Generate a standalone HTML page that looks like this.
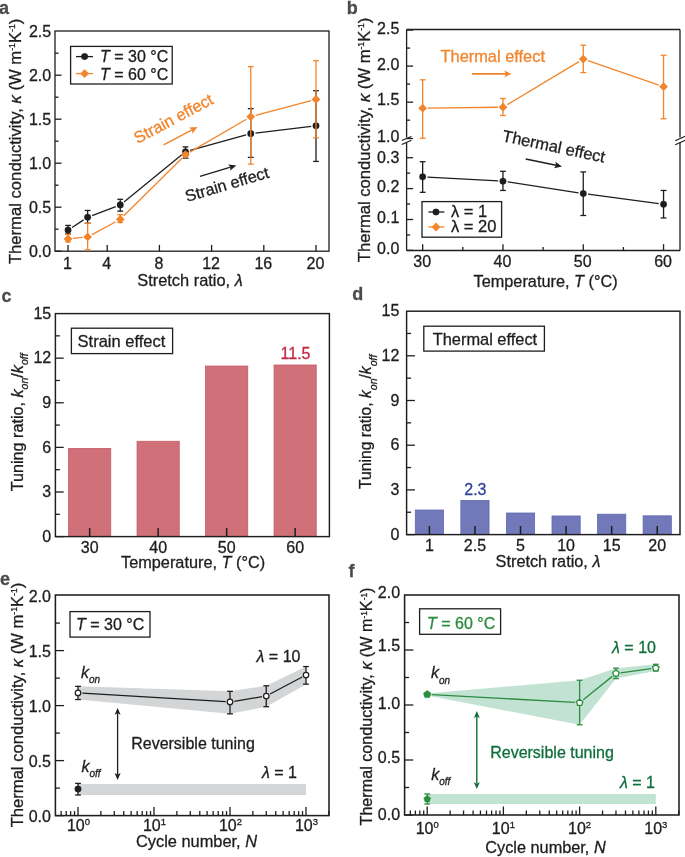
<!DOCTYPE html>
<html><head><meta charset="utf-8"><style>
html,body{margin:0;padding:0;background:#fff;}
svg{display:block;font-family:"Liberation Sans",sans-serif;will-change:transform;}
text{stroke-width:0.3px;}
</style></head><body>
<svg width="685" height="857" viewBox="0 0 685 857">
<rect width="685" height="857" fill="#fff"/>
<text x="-1.10" y="14.30" font-size="18" text-anchor="start" fill="#4b4b4b" stroke="#4b4b4b" font-weight="bold" >a</text>
<line x1="68.05" y1="251.20" x2="68.05" y2="244.90" stroke="#1e1e1e" stroke-width="1.3" />
<text x="67.55" y="268.70" font-size="16" text-anchor="middle" fill="#1e1e1e" stroke="#1e1e1e" >1</text>
<line x1="107.20" y1="251.20" x2="107.20" y2="244.90" stroke="#1e1e1e" stroke-width="1.3" />
<text x="106.70" y="268.70" font-size="16" text-anchor="middle" fill="#1e1e1e" stroke="#1e1e1e" >4</text>
<line x1="159.40" y1="251.20" x2="159.40" y2="244.90" stroke="#1e1e1e" stroke-width="1.3" />
<text x="158.90" y="268.70" font-size="16" text-anchor="middle" fill="#1e1e1e" stroke="#1e1e1e" >8</text>
<line x1="211.60" y1="251.20" x2="211.60" y2="244.90" stroke="#1e1e1e" stroke-width="1.3" />
<text x="211.10" y="268.70" font-size="16" text-anchor="middle" fill="#1e1e1e" stroke="#1e1e1e" >12</text>
<line x1="263.80" y1="251.20" x2="263.80" y2="244.90" stroke="#1e1e1e" stroke-width="1.3" />
<text x="263.30" y="268.70" font-size="16" text-anchor="middle" fill="#1e1e1e" stroke="#1e1e1e" >16</text>
<line x1="316.00" y1="251.20" x2="316.00" y2="244.90" stroke="#1e1e1e" stroke-width="1.3" />
<text x="315.50" y="268.70" font-size="16" text-anchor="middle" fill="#1e1e1e" stroke="#1e1e1e" >20</text>
<line x1="55.00" y1="251.20" x2="61.50" y2="251.20" stroke="#1e1e1e" stroke-width="1.3" />
<text x="51.20" y="256.50" font-size="16" text-anchor="end" fill="#1e1e1e" stroke="#1e1e1e" >0.0</text>
<line x1="55.00" y1="229.20" x2="58.50" y2="229.20" stroke="#1e1e1e" stroke-width="1.3" />
<line x1="55.00" y1="207.20" x2="61.50" y2="207.20" stroke="#1e1e1e" stroke-width="1.3" />
<text x="51.20" y="212.50" font-size="16" text-anchor="end" fill="#1e1e1e" stroke="#1e1e1e" >0.5</text>
<line x1="55.00" y1="185.20" x2="58.50" y2="185.20" stroke="#1e1e1e" stroke-width="1.3" />
<line x1="55.00" y1="163.20" x2="61.50" y2="163.20" stroke="#1e1e1e" stroke-width="1.3" />
<text x="51.20" y="168.50" font-size="16" text-anchor="end" fill="#1e1e1e" stroke="#1e1e1e" >1.0</text>
<line x1="55.00" y1="141.20" x2="58.50" y2="141.20" stroke="#1e1e1e" stroke-width="1.3" />
<line x1="55.00" y1="119.20" x2="61.50" y2="119.20" stroke="#1e1e1e" stroke-width="1.3" />
<text x="51.20" y="124.50" font-size="16" text-anchor="end" fill="#1e1e1e" stroke="#1e1e1e" >1.5</text>
<line x1="55.00" y1="97.20" x2="58.50" y2="97.20" stroke="#1e1e1e" stroke-width="1.3" />
<line x1="55.00" y1="75.20" x2="61.50" y2="75.20" stroke="#1e1e1e" stroke-width="1.3" />
<text x="51.20" y="80.50" font-size="16" text-anchor="end" fill="#1e1e1e" stroke="#1e1e1e" >2.0</text>
<line x1="55.00" y1="53.20" x2="58.50" y2="53.20" stroke="#1e1e1e" stroke-width="1.3" />
<text x="51.20" y="36.50" font-size="16" text-anchor="end" fill="#1e1e1e" stroke="#1e1e1e" >2.5</text>
<rect x="55.00" y="31.00" width="274.00" height="220.20" stroke="#1e1e1e" fill="none" stroke-width="1.3"/>
<text transform="translate(21.00,141.40) rotate(-90)" font-size="16.65" text-anchor="middle" fill="#1e1e1e" stroke="#1e1e1e">Thermal conductivity, <tspan font-style="italic">κ</tspan> (W m<tspan font-size="8.7" dy="-5.7">-1</tspan><tspan dy="5.7">K</tspan><tspan font-size="8.7" dy="-5.7">-1</tspan><tspan dy="5.7">)</tspan></text>
<text x="190.00" y="286.40" font-size="16.4" text-anchor="middle" fill="#1e1e1e" stroke="#1e1e1e" >Stretch ratio, <tspan font-style="italic">λ</tspan></text>
<line x1="72.06" y1="227.45" x2="83.61" y2="219.87" stroke="#1e1e1e" stroke-width="1.3" />
<line x1="92.12" y1="215.54" x2="115.76" y2="206.61" stroke="#1e1e1e" stroke-width="1.3" />
<line x1="123.97" y1="201.88" x2="181.78" y2="154.79" stroke="#1e1e1e" stroke-width="1.3" />
<line x1="190.12" y1="150.48" x2="246.13" y2="134.92" stroke="#1e1e1e" stroke-width="1.3" />
<line x1="255.52" y1="133.06" x2="311.23" y2="126.37" stroke="#1e1e1e" stroke-width="1.3" />
<line x1="68.05" y1="225.42" x2="68.05" y2="233.95" stroke="#1e1e1e" stroke-width="1.3" />
<line x1="65.15" y1="225.42" x2="70.95" y2="225.42" stroke="#1e1e1e" stroke-width="1.3" />
<line x1="65.15" y1="233.95" x2="70.95" y2="233.95" stroke="#1e1e1e" stroke-width="1.3" />
<line x1="87.62" y1="210.46" x2="87.62" y2="223.30" stroke="#1e1e1e" stroke-width="1.3" />
<line x1="84.72" y1="210.46" x2="90.53" y2="210.46" stroke="#1e1e1e" stroke-width="1.3" />
<line x1="84.72" y1="223.30" x2="90.53" y2="223.30" stroke="#1e1e1e" stroke-width="1.3" />
<line x1="120.25" y1="199.28" x2="120.25" y2="211.16" stroke="#1e1e1e" stroke-width="1.3" />
<line x1="117.35" y1="199.28" x2="123.15" y2="199.28" stroke="#1e1e1e" stroke-width="1.3" />
<line x1="117.35" y1="211.16" x2="123.15" y2="211.16" stroke="#1e1e1e" stroke-width="1.3" />
<line x1="185.50" y1="146.92" x2="185.50" y2="158.18" stroke="#1e1e1e" stroke-width="1.3" />
<line x1="182.60" y1="146.92" x2="188.40" y2="146.92" stroke="#1e1e1e" stroke-width="1.3" />
<line x1="182.60" y1="158.18" x2="188.40" y2="158.18" stroke="#1e1e1e" stroke-width="1.3" />
<line x1="250.75" y1="108.64" x2="250.75" y2="157.39" stroke="#1e1e1e" stroke-width="1.3" />
<line x1="247.85" y1="108.64" x2="253.65" y2="108.64" stroke="#1e1e1e" stroke-width="1.3" />
<line x1="247.85" y1="157.39" x2="253.65" y2="157.39" stroke="#1e1e1e" stroke-width="1.3" />
<line x1="316.00" y1="90.69" x2="316.00" y2="161.44" stroke="#1e1e1e" stroke-width="1.3" />
<line x1="313.10" y1="90.69" x2="318.90" y2="90.69" stroke="#1e1e1e" stroke-width="1.3" />
<line x1="313.10" y1="161.44" x2="318.90" y2="161.44" stroke="#1e1e1e" stroke-width="1.3" />
<circle cx="68.05" cy="230.08" r="3.3" fill="#1e1e1e" stroke="#1e1e1e" stroke-width="0.2"/>
<circle cx="87.62" cy="217.23" r="3.3" fill="#1e1e1e" stroke="#1e1e1e" stroke-width="0.2"/>
<circle cx="120.25" cy="204.91" r="3.3" fill="#1e1e1e" stroke="#1e1e1e" stroke-width="0.2"/>
<circle cx="185.50" cy="151.76" r="3.3" fill="#1e1e1e" stroke="#1e1e1e" stroke-width="0.2"/>
<circle cx="250.75" cy="133.63" r="3.3" fill="#1e1e1e" stroke="#1e1e1e" stroke-width="0.2"/>
<circle cx="316.00" cy="125.80" r="3.3" fill="#1e1e1e" stroke="#1e1e1e" stroke-width="0.2"/>
<line x1="73.02" y1="238.45" x2="82.65" y2="237.46" stroke="#f1852c" stroke-width="1.3" />
<line x1="92.03" y1="234.57" x2="115.85" y2="221.72" stroke="#f1852c" stroke-width="1.3" />
<line x1="123.80" y1="215.82" x2="181.95" y2="158.18" stroke="#f1852c" stroke-width="1.3" />
<line x1="189.82" y1="152.15" x2="246.43" y2="119.25" stroke="#f1852c" stroke-width="1.3" />
<line x1="255.58" y1="115.45" x2="311.17" y2="100.68" stroke="#f1852c" stroke-width="1.3" />
<line x1="68.05" y1="234.48" x2="68.05" y2="241.87" stroke="#f1852c" stroke-width="1.3" />
<line x1="65.15" y1="234.48" x2="70.95" y2="234.48" stroke="#f1852c" stroke-width="1.3" />
<line x1="65.15" y1="241.87" x2="70.95" y2="241.87" stroke="#f1852c" stroke-width="1.3" />
<line x1="87.62" y1="223.30" x2="87.62" y2="249.70" stroke="#f1852c" stroke-width="1.3" />
<line x1="84.72" y1="223.30" x2="90.53" y2="223.30" stroke="#f1852c" stroke-width="1.3" />
<line x1="84.72" y1="249.70" x2="90.53" y2="249.70" stroke="#f1852c" stroke-width="1.3" />
<line x1="120.25" y1="214.68" x2="120.25" y2="222.51" stroke="#f1852c" stroke-width="1.3" />
<line x1="117.35" y1="214.68" x2="123.15" y2="214.68" stroke="#f1852c" stroke-width="1.3" />
<line x1="117.35" y1="222.51" x2="123.15" y2="222.51" stroke="#f1852c" stroke-width="1.3" />
<line x1="185.50" y1="153.08" x2="185.50" y2="156.16" stroke="#f1852c" stroke-width="1.3" />
<line x1="182.60" y1="153.08" x2="188.40" y2="153.08" stroke="#f1852c" stroke-width="1.3" />
<line x1="182.60" y1="156.16" x2="188.40" y2="156.16" stroke="#f1852c" stroke-width="1.3" />
<line x1="250.75" y1="66.58" x2="250.75" y2="164.08" stroke="#f1852c" stroke-width="1.3" />
<line x1="247.85" y1="66.58" x2="253.65" y2="66.58" stroke="#f1852c" stroke-width="1.3" />
<line x1="247.85" y1="164.08" x2="253.65" y2="164.08" stroke="#f1852c" stroke-width="1.3" />
<line x1="316.00" y1="60.59" x2="316.00" y2="137.86" stroke="#f1852c" stroke-width="1.3" />
<line x1="313.10" y1="60.59" x2="318.90" y2="60.59" stroke="#f1852c" stroke-width="1.3" />
<line x1="313.10" y1="137.86" x2="318.90" y2="137.86" stroke="#f1852c" stroke-width="1.3" />
<path d="M68.05 234.57L72.45 238.97L68.05 243.37L63.65 238.97Z" fill="#f1852c"/>
<path d="M87.62 232.54L92.03 236.94L87.62 241.34L83.22 236.94Z" fill="#f1852c"/>
<path d="M120.25 214.94L124.65 219.34L120.25 223.74L115.85 219.34Z" fill="#f1852c"/>
<path d="M185.50 150.26L189.90 154.66L185.50 159.06L181.10 154.66Z" fill="#f1852c"/>
<path d="M250.75 112.34L255.15 116.74L250.75 121.14L246.35 116.74Z" fill="#f1852c"/>
<path d="M316.00 95.00L320.40 99.40L316.00 103.80L311.60 99.40Z" fill="#f1852c"/>
<rect x="70.60" y="46.40" width="101.60" height="37.60" stroke="#1e1e1e" fill="none" stroke-width="1.3"/>
<line x1="76.00" y1="56.60" x2="93.00" y2="56.60" stroke="#1e1e1e" stroke-width="1.3" />
<circle cx="84.60" cy="56.60" r="3.3" fill="#1e1e1e" stroke="#1e1e1e" stroke-width="0.2"/>
<text x="100.00" y="62.40" font-size="16" text-anchor="start" fill="#1e1e1e" stroke="#1e1e1e" ><tspan font-style="italic">T</tspan> = 30 °C</text>
<line x1="76.00" y1="73.60" x2="93.00" y2="73.60" stroke="#f1852c" stroke-width="1.3" />
<path d="M84.60 69.20L89.00 73.60L84.60 78.00L80.20 73.60Z" fill="#f1852c"/>
<text x="100.00" y="79.60" font-size="16" text-anchor="start" fill="#1e1e1e" stroke="#1e1e1e" ><tspan font-style="italic">T</tspan> = 60 °C</text>
<text transform="translate(137.5,144) rotate(-28)" font-size="16.4" fill="#f1852c" stroke="#f1852c">Strain effect</text>
<line x1="163.60" y1="144.80" x2="192.08" y2="129.88" stroke="#f1852c" stroke-width="1.5" />
<path d="M197.40 127.10L192.38 133.68L192.08 129.88L189.13 127.48Z" fill="#f1852c"/>
<text transform="translate(187,202) rotate(-16.5)" font-size="16.3" fill="#1e1e1e" stroke="#1e1e1e">Strain effect</text>
<line x1="200.00" y1="176.40" x2="230.56" y2="167.14" stroke="#1e1e1e" stroke-width="1.4" />
<path d="M236.30 165.40L230.08 170.73L230.56 167.14L228.17 164.42Z" fill="#1e1e1e"/>
<text x="346.80" y="13.70" font-size="18" text-anchor="start" fill="#4b4b4b" stroke="#4b4b4b" font-weight="bold" >b</text>
<line x1="406.60" y1="29.50" x2="680.00" y2="29.50" stroke="#1e1e1e" stroke-width="1.3" />
<line x1="406.60" y1="250.50" x2="680.00" y2="250.50" stroke="#1e1e1e" stroke-width="1.3" />
<line x1="406.60" y1="29.50" x2="406.60" y2="137.60" stroke="#1e1e1e" stroke-width="1.3" />
<line x1="406.60" y1="142.50" x2="406.60" y2="250.50" stroke="#1e1e1e" stroke-width="1.3" />
<line x1="680.00" y1="29.50" x2="680.00" y2="137.60" stroke="#1e1e1e" stroke-width="1.3" />
<line x1="680.00" y1="142.50" x2="680.00" y2="250.50" stroke="#1e1e1e" stroke-width="1.3" />
<line x1="401.80" y1="140.50" x2="411.40" y2="136.50" stroke="#1e1e1e" stroke-width="1.25" />
<line x1="401.80" y1="144.50" x2="411.40" y2="140.30" stroke="#1e1e1e" stroke-width="1.25" />
<line x1="675.20" y1="140.70" x2="686.00" y2="136.00" stroke="#1e1e1e" stroke-width="1.25" />
<line x1="675.20" y1="144.70" x2="686.00" y2="140.00" stroke="#1e1e1e" stroke-width="1.25" />
<line x1="406.60" y1="138.50" x2="413.10" y2="138.50" stroke="#1e1e1e" stroke-width="1.3" />
<line x1="422.66" y1="250.50" x2="422.66" y2="244.20" stroke="#1e1e1e" stroke-width="1.3" />
<text x="422.16" y="267.30" font-size="16" text-anchor="middle" fill="#1e1e1e" stroke="#1e1e1e" >30</text>
<line x1="502.96" y1="250.50" x2="502.96" y2="244.20" stroke="#1e1e1e" stroke-width="1.3" />
<text x="502.46" y="267.30" font-size="16" text-anchor="middle" fill="#1e1e1e" stroke="#1e1e1e" >40</text>
<line x1="583.26" y1="250.50" x2="583.26" y2="244.20" stroke="#1e1e1e" stroke-width="1.3" />
<text x="582.76" y="267.30" font-size="16" text-anchor="middle" fill="#1e1e1e" stroke="#1e1e1e" >50</text>
<line x1="663.56" y1="250.50" x2="663.56" y2="244.20" stroke="#1e1e1e" stroke-width="1.3" />
<text x="663.06" y="267.30" font-size="16" text-anchor="middle" fill="#1e1e1e" stroke="#1e1e1e" >60</text>
<line x1="462.81" y1="250.50" x2="462.81" y2="247.00" stroke="#1e1e1e" stroke-width="1.3" />
<line x1="543.11" y1="250.50" x2="543.11" y2="247.00" stroke="#1e1e1e" stroke-width="1.3" />
<line x1="623.41" y1="250.50" x2="623.41" y2="247.00" stroke="#1e1e1e" stroke-width="1.3" />
<line x1="406.60" y1="102.15" x2="413.10" y2="102.15" stroke="#1e1e1e" stroke-width="1.3" />
<line x1="406.60" y1="66.10" x2="413.10" y2="66.10" stroke="#1e1e1e" stroke-width="1.3" />
<line x1="406.60" y1="30.05" x2="413.10" y2="30.05" stroke="#1e1e1e" stroke-width="1.3" />
<text x="399.30" y="33.50" font-size="16" text-anchor="end" fill="#1e1e1e" stroke="#1e1e1e" >2.5</text>
<text x="399.30" y="70.00" font-size="16" text-anchor="end" fill="#1e1e1e" stroke="#1e1e1e" >2.0</text>
<text x="399.30" y="105.10" font-size="16" text-anchor="end" fill="#1e1e1e" stroke="#1e1e1e" >1.5</text>
<text x="399.30" y="141.70" font-size="16" text-anchor="end" fill="#1e1e1e" stroke="#1e1e1e" >1.0</text>
<line x1="406.60" y1="120.17" x2="410.10" y2="120.17" stroke="#1e1e1e" stroke-width="1.3" />
<line x1="406.60" y1="84.12" x2="410.10" y2="84.12" stroke="#1e1e1e" stroke-width="1.3" />
<line x1="406.60" y1="48.07" x2="410.10" y2="48.07" stroke="#1e1e1e" stroke-width="1.3" />
<line x1="406.60" y1="250.40" x2="413.10" y2="250.40" stroke="#1e1e1e" stroke-width="1.3" />
<line x1="406.60" y1="219.50" x2="413.10" y2="219.50" stroke="#1e1e1e" stroke-width="1.3" />
<line x1="406.60" y1="188.60" x2="413.10" y2="188.60" stroke="#1e1e1e" stroke-width="1.3" />
<line x1="406.60" y1="157.70" x2="413.10" y2="157.70" stroke="#1e1e1e" stroke-width="1.3" />
<text x="399.30" y="162.50" font-size="16" text-anchor="end" fill="#1e1e1e" stroke="#1e1e1e" >0.3</text>
<text x="399.30" y="192.00" font-size="16" text-anchor="end" fill="#1e1e1e" stroke="#1e1e1e" >0.2</text>
<text x="399.30" y="223.25" font-size="16" text-anchor="end" fill="#1e1e1e" stroke="#1e1e1e" >0.1</text>
<text x="399.30" y="254.40" font-size="16" text-anchor="end" fill="#1e1e1e" stroke="#1e1e1e" >0.0</text>
<line x1="406.60" y1="234.95" x2="410.10" y2="234.95" stroke="#1e1e1e" stroke-width="1.3" />
<line x1="406.60" y1="204.05" x2="410.10" y2="204.05" stroke="#1e1e1e" stroke-width="1.3" />
<line x1="406.60" y1="173.15" x2="410.10" y2="173.15" stroke="#1e1e1e" stroke-width="1.3" />
<text transform="translate(369.80,139.90) rotate(-90)" font-size="16.6" text-anchor="middle" fill="#1e1e1e" stroke="#1e1e1e">Thermal conductivity, <tspan font-style="italic">κ</tspan> (W m<tspan font-size="8.6" dy="-5.6">-1</tspan><tspan dy="5.6">K</tspan><tspan font-size="8.6" dy="-5.6">-1</tspan><tspan dy="5.6">)</tspan></text>
<text x="545.60" y="286.70" font-size="16.3" text-anchor="middle" fill="#1e1e1e" stroke="#1e1e1e" >Temperature, <tspan font-style="italic">T</tspan> (°C)</text>
<line x1="427.45" y1="177.12" x2="498.17" y2="180.93" stroke="#1e1e1e" stroke-width="1.3" />
<line x1="507.70" y1="181.91" x2="578.52" y2="192.81" stroke="#1e1e1e" stroke-width="1.3" />
<line x1="588.02" y1="194.18" x2="658.80" y2="203.72" stroke="#1e1e1e" stroke-width="1.3" />
<line x1="422.66" y1="161.72" x2="422.66" y2="192.31" stroke="#1e1e1e" stroke-width="1.3" />
<line x1="419.76" y1="161.72" x2="425.56" y2="161.72" stroke="#1e1e1e" stroke-width="1.3" />
<line x1="419.76" y1="192.31" x2="425.56" y2="192.31" stroke="#1e1e1e" stroke-width="1.3" />
<line x1="502.96" y1="171.30" x2="502.96" y2="190.45" stroke="#1e1e1e" stroke-width="1.3" />
<line x1="500.06" y1="171.30" x2="505.86" y2="171.30" stroke="#1e1e1e" stroke-width="1.3" />
<line x1="500.06" y1="190.45" x2="505.86" y2="190.45" stroke="#1e1e1e" stroke-width="1.3" />
<line x1="583.26" y1="171.91" x2="583.26" y2="215.48" stroke="#1e1e1e" stroke-width="1.3" />
<line x1="580.36" y1="171.91" x2="586.16" y2="171.91" stroke="#1e1e1e" stroke-width="1.3" />
<line x1="580.36" y1="215.48" x2="586.16" y2="215.48" stroke="#1e1e1e" stroke-width="1.3" />
<line x1="663.56" y1="190.45" x2="663.56" y2="217.96" stroke="#1e1e1e" stroke-width="1.3" />
<line x1="660.66" y1="190.45" x2="666.46" y2="190.45" stroke="#1e1e1e" stroke-width="1.3" />
<line x1="660.66" y1="217.96" x2="666.46" y2="217.96" stroke="#1e1e1e" stroke-width="1.3" />
<circle cx="422.66" cy="176.86" r="3.3" fill="#1e1e1e" stroke="#1e1e1e" stroke-width="0.2"/>
<circle cx="502.96" cy="181.18" r="3.3" fill="#1e1e1e" stroke="#1e1e1e" stroke-width="0.2"/>
<circle cx="583.26" cy="193.54" r="3.3" fill="#1e1e1e" stroke="#1e1e1e" stroke-width="0.2"/>
<circle cx="663.56" cy="204.36" r="3.3" fill="#1e1e1e" stroke="#1e1e1e" stroke-width="0.2"/>
<line x1="427.66" y1="108.08" x2="497.96" y2="107.26" stroke="#f1852c" stroke-width="1.3" />
<line x1="507.25" y1="104.63" x2="578.97" y2="61.68" stroke="#f1852c" stroke-width="1.3" />
<line x1="587.99" y1="60.73" x2="658.83" y2="85.09" stroke="#f1852c" stroke-width="1.3" />
<line x1="422.66" y1="79.80" x2="422.66" y2="138.20" stroke="#f1852c" stroke-width="1.3" />
<line x1="419.76" y1="79.80" x2="425.56" y2="79.80" stroke="#f1852c" stroke-width="1.3" />
<line x1="419.76" y1="138.20" x2="425.56" y2="138.20" stroke="#f1852c" stroke-width="1.3" />
<line x1="502.96" y1="98.54" x2="502.96" y2="115.49" stroke="#f1852c" stroke-width="1.3" />
<line x1="500.06" y1="98.54" x2="505.86" y2="98.54" stroke="#f1852c" stroke-width="1.3" />
<line x1="500.06" y1="115.49" x2="505.86" y2="115.49" stroke="#f1852c" stroke-width="1.3" />
<line x1="583.26" y1="45.19" x2="583.26" y2="72.59" stroke="#f1852c" stroke-width="1.3" />
<line x1="580.36" y1="45.19" x2="586.16" y2="45.19" stroke="#f1852c" stroke-width="1.3" />
<line x1="580.36" y1="72.59" x2="586.16" y2="72.59" stroke="#f1852c" stroke-width="1.3" />
<line x1="663.56" y1="55.28" x2="663.56" y2="118.73" stroke="#f1852c" stroke-width="1.3" />
<line x1="660.66" y1="55.28" x2="666.46" y2="55.28" stroke="#f1852c" stroke-width="1.3" />
<line x1="660.66" y1="118.73" x2="666.46" y2="118.73" stroke="#f1852c" stroke-width="1.3" />
<path d="M422.66 103.73L427.06 108.13L422.66 112.53L418.26 108.13Z" fill="#f1852c"/>
<path d="M502.96 102.80L507.36 107.20L502.96 111.60L498.56 107.20Z" fill="#f1852c"/>
<path d="M583.26 54.71L587.66 59.11L583.26 63.51L578.86 59.11Z" fill="#f1852c"/>
<path d="M663.56 82.32L667.96 86.72L663.56 91.12L659.16 86.72Z" fill="#f1852c"/>
<rect x="422.00" y="201.60" width="79.60" height="35.60" stroke="#1e1e1e" fill="none" stroke-width="1.3"/>
<line x1="428.40" y1="212.00" x2="444.40" y2="212.00" stroke="#1e1e1e" stroke-width="1.3" />
<circle cx="436.00" cy="212.00" r="3.3" fill="#1e1e1e" stroke="#1e1e1e" stroke-width="0.2"/>
<text x="451.00" y="216.60" font-size="16.5" text-anchor="start" fill="#1e1e1e" stroke="#1e1e1e" >λ = 1</text>
<line x1="428.40" y1="227.00" x2="444.40" y2="227.00" stroke="#f1852c" stroke-width="1.3" />
<path d="M436.00 222.60L440.40 227.00L436.00 231.40L431.60 227.00Z" fill="#f1852c"/>
<text x="451.00" y="232.40" font-size="16.5" text-anchor="start" fill="#1e1e1e" stroke="#1e1e1e" >λ = 20</text>
<text x="440.50" y="62.00" font-size="16.4" text-anchor="start" fill="#f1852c" stroke="#f1852c" >Thermal effect</text>
<line x1="472.00" y1="73.90" x2="505.80" y2="73.90" stroke="#f1852c" stroke-width="1.9" />
<path d="M511.50 73.90L504.30 77.30L505.80 73.90L504.30 70.50Z" fill="#f1852c"/>
<text transform="translate(501.6,141) rotate(12)" font-size="16.4" fill="#1e1e1e" stroke="#1e1e1e">Thermal effect</text>
<line x1="525.70" y1="159.00" x2="556.12" y2="165.20" stroke="#1e1e1e" stroke-width="1.4" />
<path d="M562.00 166.40L553.99 168.14L556.12 165.20L555.31 161.67Z" fill="#1e1e1e"/>
<text x="1.50" y="302.00" font-size="18" text-anchor="start" fill="#4b4b4b" stroke="#4b4b4b" font-weight="bold" >c</text>
<rect x="68.55" y="448.42" width="42.2" height="88.18" fill="#d07078" stroke="#c85a67" stroke-width="0.8"/>
<line x1="89.65" y1="536.60" x2="89.65" y2="528.00" stroke="#1e1e1e" stroke-width="1.5" />
<text x="89.65" y="552.50" font-size="16" text-anchor="middle" fill="#1e1e1e" stroke="#1e1e1e" >30</text>
<rect x="137.05" y="441.28" width="42.2" height="95.32" fill="#d07078" stroke="#c85a67" stroke-width="0.8"/>
<line x1="158.15" y1="536.60" x2="158.15" y2="528.00" stroke="#1e1e1e" stroke-width="1.5" />
<text x="158.15" y="552.50" font-size="16" text-anchor="middle" fill="#1e1e1e" stroke="#1e1e1e" >40</text>
<rect x="205.55" y="366.04" width="42.2" height="170.56" fill="#d07078" stroke="#c85a67" stroke-width="0.8"/>
<line x1="226.65" y1="536.60" x2="226.65" y2="528.00" stroke="#1e1e1e" stroke-width="1.5" />
<text x="226.65" y="552.50" font-size="16" text-anchor="middle" fill="#1e1e1e" stroke="#1e1e1e" >50</text>
<rect x="274.05" y="365.00" width="42.2" height="171.60" fill="#d07078" stroke="#c85a67" stroke-width="0.8"/>
<line x1="295.15" y1="536.60" x2="295.15" y2="528.00" stroke="#1e1e1e" stroke-width="1.5" />
<text x="295.15" y="552.50" font-size="16" text-anchor="middle" fill="#1e1e1e" stroke="#1e1e1e" >60</text>
<line x1="55.40" y1="536.60" x2="63.70" y2="536.60" stroke="#1e1e1e" stroke-width="1.3" />
<text x="51.20" y="541.90" font-size="16" text-anchor="end" fill="#1e1e1e" stroke="#1e1e1e" >0</text>
<line x1="55.40" y1="514.30" x2="59.90" y2="514.30" stroke="#1e1e1e" stroke-width="1.3" />
<line x1="55.40" y1="491.99" x2="63.70" y2="491.99" stroke="#1e1e1e" stroke-width="1.3" />
<text x="51.20" y="497.29" font-size="16" text-anchor="end" fill="#1e1e1e" stroke="#1e1e1e" >3</text>
<line x1="55.40" y1="469.69" x2="59.90" y2="469.69" stroke="#1e1e1e" stroke-width="1.3" />
<line x1="55.40" y1="447.38" x2="63.70" y2="447.38" stroke="#1e1e1e" stroke-width="1.3" />
<text x="51.20" y="452.68" font-size="16" text-anchor="end" fill="#1e1e1e" stroke="#1e1e1e" >6</text>
<line x1="55.40" y1="425.08" x2="59.90" y2="425.08" stroke="#1e1e1e" stroke-width="1.3" />
<line x1="55.40" y1="402.77" x2="63.70" y2="402.77" stroke="#1e1e1e" stroke-width="1.3" />
<text x="51.20" y="408.07" font-size="16" text-anchor="end" fill="#1e1e1e" stroke="#1e1e1e" >9</text>
<line x1="55.40" y1="380.47" x2="59.90" y2="380.47" stroke="#1e1e1e" stroke-width="1.3" />
<line x1="55.40" y1="358.16" x2="63.70" y2="358.16" stroke="#1e1e1e" stroke-width="1.3" />
<text x="51.20" y="363.46" font-size="16" text-anchor="end" fill="#1e1e1e" stroke="#1e1e1e" >12</text>
<line x1="55.40" y1="335.86" x2="59.90" y2="335.86" stroke="#1e1e1e" stroke-width="1.3" />
<text x="51.20" y="318.85" font-size="16" text-anchor="end" fill="#1e1e1e" stroke="#1e1e1e" >15</text>
<rect x="55.40" y="313.60" width="274.00" height="223.00" stroke="#1e1e1e" fill="none" stroke-width="1.45"/>
<text transform="translate(22.80,422.40) rotate(-90)" font-size="16.2" text-anchor="middle" fill="#1e1e1e" stroke="#1e1e1e">Tuning ratio, <tspan font-style="italic">k</tspan><tspan font-style="italic" font-size="10.5" dy="5.6">on</tspan><tspan dy="-5.6">/</tspan><tspan font-style="italic">k</tspan><tspan font-style="italic" font-size="10.5" dy="5.6">off</tspan></text>
<text x="193.10" y="567.60" font-size="16.3" text-anchor="middle" fill="#1e1e1e" stroke="#1e1e1e" >Temperature, <tspan font-style="italic">T</tspan> (°C)</text>
<rect x="71.40" y="328.20" width="101.20" height="25.40" stroke="#1e1e1e" fill="none" stroke-width="1.3"/>
<text x="77.60" y="346.80" font-size="16.5" text-anchor="start" fill="#1e1e1e" stroke="#1e1e1e" >Strain effect</text>
<text x="295.50" y="359.00" font-size="16" text-anchor="middle" fill="#c02a41" stroke="#c02a41" >11.5</text>
<text x="352.20" y="300.00" font-size="18" text-anchor="start" fill="#4b4b4b" stroke="#4b4b4b" font-weight="bold" >d</text>
<rect x="415.28" y="510.02" width="28.2" height="24.58" fill="#7279bb" stroke="#5f68b0" stroke-width="0.8"/>
<line x1="429.38" y1="534.60" x2="429.38" y2="526.00" stroke="#1e1e1e" stroke-width="1.5" />
<text x="429.38" y="550.50" font-size="16" text-anchor="middle" fill="#1e1e1e" stroke="#1e1e1e" >1</text>
<rect x="460.85" y="500.48" width="28.2" height="34.12" fill="#7279bb" stroke="#5f68b0" stroke-width="0.8"/>
<line x1="474.95" y1="534.60" x2="474.95" y2="526.00" stroke="#1e1e1e" stroke-width="1.5" />
<text x="474.95" y="550.50" font-size="16" text-anchor="middle" fill="#1e1e1e" stroke="#1e1e1e" >2.5</text>
<rect x="506.42" y="513.00" width="28.2" height="21.61" fill="#7279bb" stroke="#5f68b0" stroke-width="0.8"/>
<line x1="520.52" y1="534.60" x2="520.52" y2="526.00" stroke="#1e1e1e" stroke-width="1.5" />
<text x="520.52" y="550.50" font-size="16" text-anchor="middle" fill="#1e1e1e" stroke="#1e1e1e" >5</text>
<rect x="551.99" y="515.98" width="28.2" height="18.62" fill="#7279bb" stroke="#5f68b0" stroke-width="0.8"/>
<line x1="566.09" y1="534.60" x2="566.09" y2="526.00" stroke="#1e1e1e" stroke-width="1.5" />
<text x="566.09" y="550.50" font-size="16" text-anchor="middle" fill="#1e1e1e" stroke="#1e1e1e" >10</text>
<rect x="597.56" y="514.19" width="28.2" height="20.41" fill="#7279bb" stroke="#5f68b0" stroke-width="0.8"/>
<line x1="611.66" y1="534.60" x2="611.66" y2="526.00" stroke="#1e1e1e" stroke-width="1.5" />
<text x="611.66" y="550.50" font-size="16" text-anchor="middle" fill="#1e1e1e" stroke="#1e1e1e" >15</text>
<rect x="643.13" y="515.83" width="28.2" height="18.77" fill="#7279bb" stroke="#5f68b0" stroke-width="0.8"/>
<line x1="657.23" y1="534.60" x2="657.23" y2="526.00" stroke="#1e1e1e" stroke-width="1.5" />
<text x="657.23" y="550.50" font-size="16" text-anchor="middle" fill="#1e1e1e" stroke="#1e1e1e" >20</text>
<line x1="406.60" y1="534.60" x2="414.90" y2="534.60" stroke="#1e1e1e" stroke-width="1.3" />
<text x="399.30" y="539.80" font-size="16" text-anchor="end" fill="#1e1e1e" stroke="#1e1e1e" >0</text>
<line x1="406.60" y1="512.25" x2="411.10" y2="512.25" stroke="#1e1e1e" stroke-width="1.3" />
<line x1="406.60" y1="489.90" x2="414.90" y2="489.90" stroke="#1e1e1e" stroke-width="1.3" />
<text x="399.30" y="495.10" font-size="16" text-anchor="end" fill="#1e1e1e" stroke="#1e1e1e" >3</text>
<line x1="406.60" y1="467.55" x2="411.10" y2="467.55" stroke="#1e1e1e" stroke-width="1.3" />
<line x1="406.60" y1="445.20" x2="414.90" y2="445.20" stroke="#1e1e1e" stroke-width="1.3" />
<text x="399.30" y="450.40" font-size="16" text-anchor="end" fill="#1e1e1e" stroke="#1e1e1e" >6</text>
<line x1="406.60" y1="422.85" x2="411.10" y2="422.85" stroke="#1e1e1e" stroke-width="1.3" />
<line x1="406.60" y1="400.50" x2="414.90" y2="400.50" stroke="#1e1e1e" stroke-width="1.3" />
<text x="399.30" y="405.70" font-size="16" text-anchor="end" fill="#1e1e1e" stroke="#1e1e1e" >9</text>
<line x1="406.60" y1="378.15" x2="411.10" y2="378.15" stroke="#1e1e1e" stroke-width="1.3" />
<line x1="406.60" y1="355.80" x2="414.90" y2="355.80" stroke="#1e1e1e" stroke-width="1.3" />
<text x="399.30" y="361.00" font-size="16" text-anchor="end" fill="#1e1e1e" stroke="#1e1e1e" >12</text>
<line x1="406.60" y1="333.45" x2="411.10" y2="333.45" stroke="#1e1e1e" stroke-width="1.3" />
<text x="399.30" y="316.30" font-size="16" text-anchor="end" fill="#1e1e1e" stroke="#1e1e1e" >15</text>
<rect x="406.60" y="311.20" width="273.40" height="223.40" stroke="#1e1e1e" fill="none" stroke-width="1.45"/>
<text transform="translate(371.00,421.80) rotate(-90)" font-size="15.7" text-anchor="middle" fill="#1e1e1e" stroke="#1e1e1e">Tuning ratio, <tspan font-style="italic">k</tspan><tspan font-style="italic" font-size="10.5" dy="5.6">on</tspan><tspan dy="-5.6">/</tspan><tspan font-style="italic">k</tspan><tspan font-style="italic" font-size="10.5" dy="5.6">off</tspan></text>
<text x="548.00" y="567.30" font-size="16.3" text-anchor="middle" fill="#1e1e1e" stroke="#1e1e1e" >Stretch ratio, <tspan font-style="italic">λ</tspan></text>
<rect x="423.80" y="326.20" width="120.60" height="24.90" stroke="#1e1e1e" fill="none" stroke-width="1.3"/>
<text x="432.70" y="345.20" font-size="16.4" text-anchor="start" fill="#1e1e1e" stroke="#1e1e1e" >Thermal effect</text>
<text x="475.40" y="495.20" font-size="16" text-anchor="middle" fill="#3342a0" stroke="#3342a0" >2.3</text>
<text x="0.10" y="585.40" font-size="18" text-anchor="start" fill="#4b4b4b" stroke="#4b4b4b" font-weight="bold" >e</text>
<line x1="78.00" y1="815.60" x2="78.00" y2="807.10" stroke="#1e1e1e" stroke-width="1.3" />
<text x="78.50" y="830.50" font-size="16" text-anchor="middle" fill="#1e1e1e" stroke="#1e1e1e" >10<tspan font-size="9.5" dy="-5.5">0</tspan></text>
<line x1="154.00" y1="815.60" x2="154.00" y2="807.10" stroke="#1e1e1e" stroke-width="1.3" />
<text x="154.50" y="830.50" font-size="16" text-anchor="middle" fill="#1e1e1e" stroke="#1e1e1e" >10<tspan font-size="9.5" dy="-5.5">1</tspan></text>
<line x1="230.00" y1="815.60" x2="230.00" y2="807.10" stroke="#1e1e1e" stroke-width="1.3" />
<text x="230.50" y="830.50" font-size="16" text-anchor="middle" fill="#1e1e1e" stroke="#1e1e1e" >10<tspan font-size="9.5" dy="-5.5">2</tspan></text>
<line x1="306.00" y1="815.60" x2="306.00" y2="807.10" stroke="#1e1e1e" stroke-width="1.3" />
<text x="306.50" y="830.50" font-size="16" text-anchor="middle" fill="#1e1e1e" stroke="#1e1e1e" >10<tspan font-size="9.5" dy="-5.5">3</tspan></text>
<line x1="61.14" y1="815.60" x2="61.14" y2="811.10" stroke="#1e1e1e" stroke-width="1.3" />
<line x1="66.23" y1="815.60" x2="66.23" y2="811.10" stroke="#1e1e1e" stroke-width="1.3" />
<line x1="70.63" y1="815.60" x2="70.63" y2="811.10" stroke="#1e1e1e" stroke-width="1.3" />
<line x1="74.52" y1="815.60" x2="74.52" y2="811.10" stroke="#1e1e1e" stroke-width="1.3" />
<line x1="100.88" y1="815.60" x2="100.88" y2="811.10" stroke="#1e1e1e" stroke-width="1.3" />
<line x1="114.26" y1="815.60" x2="114.26" y2="811.10" stroke="#1e1e1e" stroke-width="1.3" />
<line x1="123.76" y1="815.60" x2="123.76" y2="811.10" stroke="#1e1e1e" stroke-width="1.3" />
<line x1="131.12" y1="815.60" x2="131.12" y2="811.10" stroke="#1e1e1e" stroke-width="1.3" />
<line x1="137.14" y1="815.60" x2="137.14" y2="811.10" stroke="#1e1e1e" stroke-width="1.3" />
<line x1="142.23" y1="815.60" x2="142.23" y2="811.10" stroke="#1e1e1e" stroke-width="1.3" />
<line x1="146.63" y1="815.60" x2="146.63" y2="811.10" stroke="#1e1e1e" stroke-width="1.3" />
<line x1="150.52" y1="815.60" x2="150.52" y2="811.10" stroke="#1e1e1e" stroke-width="1.3" />
<line x1="176.88" y1="815.60" x2="176.88" y2="811.10" stroke="#1e1e1e" stroke-width="1.3" />
<line x1="190.26" y1="815.60" x2="190.26" y2="811.10" stroke="#1e1e1e" stroke-width="1.3" />
<line x1="199.76" y1="815.60" x2="199.76" y2="811.10" stroke="#1e1e1e" stroke-width="1.3" />
<line x1="207.12" y1="815.60" x2="207.12" y2="811.10" stroke="#1e1e1e" stroke-width="1.3" />
<line x1="213.14" y1="815.60" x2="213.14" y2="811.10" stroke="#1e1e1e" stroke-width="1.3" />
<line x1="218.23" y1="815.60" x2="218.23" y2="811.10" stroke="#1e1e1e" stroke-width="1.3" />
<line x1="222.63" y1="815.60" x2="222.63" y2="811.10" stroke="#1e1e1e" stroke-width="1.3" />
<line x1="226.52" y1="815.60" x2="226.52" y2="811.10" stroke="#1e1e1e" stroke-width="1.3" />
<line x1="252.88" y1="815.60" x2="252.88" y2="811.10" stroke="#1e1e1e" stroke-width="1.3" />
<line x1="266.26" y1="815.60" x2="266.26" y2="811.10" stroke="#1e1e1e" stroke-width="1.3" />
<line x1="275.76" y1="815.60" x2="275.76" y2="811.10" stroke="#1e1e1e" stroke-width="1.3" />
<line x1="283.12" y1="815.60" x2="283.12" y2="811.10" stroke="#1e1e1e" stroke-width="1.3" />
<line x1="289.14" y1="815.60" x2="289.14" y2="811.10" stroke="#1e1e1e" stroke-width="1.3" />
<line x1="294.23" y1="815.60" x2="294.23" y2="811.10" stroke="#1e1e1e" stroke-width="1.3" />
<line x1="298.63" y1="815.60" x2="298.63" y2="811.10" stroke="#1e1e1e" stroke-width="1.3" />
<line x1="302.52" y1="815.60" x2="302.52" y2="811.10" stroke="#1e1e1e" stroke-width="1.3" />
<line x1="328.88" y1="815.60" x2="328.88" y2="811.10" stroke="#1e1e1e" stroke-width="1.3" />
<line x1="55.40" y1="815.60" x2="64.10" y2="815.60" stroke="#1e1e1e" stroke-width="1.3" />
<text x="50.90" y="822.10" font-size="16" text-anchor="end" fill="#1e1e1e" stroke="#1e1e1e" >0.0</text>
<line x1="55.40" y1="788.10" x2="59.90" y2="788.10" stroke="#1e1e1e" stroke-width="1.3" />
<line x1="55.40" y1="760.60" x2="64.10" y2="760.60" stroke="#1e1e1e" stroke-width="1.3" />
<text x="50.90" y="767.10" font-size="16" text-anchor="end" fill="#1e1e1e" stroke="#1e1e1e" >0.5</text>
<line x1="55.40" y1="733.10" x2="59.90" y2="733.10" stroke="#1e1e1e" stroke-width="1.3" />
<line x1="55.40" y1="705.60" x2="64.10" y2="705.60" stroke="#1e1e1e" stroke-width="1.3" />
<text x="50.90" y="712.10" font-size="16" text-anchor="end" fill="#1e1e1e" stroke="#1e1e1e" >1.0</text>
<line x1="55.40" y1="678.10" x2="59.90" y2="678.10" stroke="#1e1e1e" stroke-width="1.3" />
<line x1="55.40" y1="650.60" x2="64.10" y2="650.60" stroke="#1e1e1e" stroke-width="1.3" />
<text x="50.90" y="657.10" font-size="16" text-anchor="end" fill="#1e1e1e" stroke="#1e1e1e" >1.5</text>
<line x1="55.40" y1="623.10" x2="59.90" y2="623.10" stroke="#1e1e1e" stroke-width="1.3" />
<text x="50.90" y="602.10" font-size="16" text-anchor="end" fill="#1e1e1e" stroke="#1e1e1e" >2.0</text>
<rect x="55.40" y="595.00" width="273.60" height="220.60" stroke="#1e1e1e" fill="none" stroke-width="1.55"/>
<text transform="translate(22.70,705.00) rotate(-90)" font-size="16.6" text-anchor="middle" fill="#1e1e1e" stroke="#1e1e1e">Thermal conductivity, <tspan font-style="italic">κ</tspan> (W m<tspan font-size="8.6" dy="-5.6">-1</tspan><tspan dy="5.6">K</tspan><tspan font-size="8.6" dy="-5.6">-1</tspan><tspan dy="5.6">)</tspan></text>
<text x="196.50" y="847.40" font-size="16.4" text-anchor="middle" fill="#1e1e1e" stroke="#1e1e1e" >Cycle number, <tspan font-style="italic">N</tspan></text>
<path d="M78.00 686.35 L230.00 691.30 L266.26 685.80 L306.00 666.55 L306.00 684.15 L266.26 706.70 L230.00 713.85 L78.00 699.55Z" fill="#d3d5d6"/>
<rect x="78.00" y="784" width="228.00" height="11" fill="#d3d5d6"/>
<line x1="82.29" y1="693.20" x2="225.71" y2="701.72" stroke="#1e1e1e" stroke-width="1.3" />
<line x1="234.24" y1="701.27" x2="262.02" y2="696.73" stroke="#1e1e1e" stroke-width="1.3" />
<line x1="270.06" y1="694.02" x2="302.20" y2="677.03" stroke="#1e1e1e" stroke-width="1.3" />
<line x1="78.00" y1="686.35" x2="78.00" y2="699.55" stroke="#1e1e1e" stroke-width="1.3" />
<line x1="75.10" y1="686.35" x2="80.90" y2="686.35" stroke="#1e1e1e" stroke-width="1.3" />
<line x1="75.10" y1="699.55" x2="80.90" y2="699.55" stroke="#1e1e1e" stroke-width="1.3" />
<line x1="230.00" y1="691.30" x2="230.00" y2="713.85" stroke="#1e1e1e" stroke-width="1.3" />
<line x1="227.10" y1="691.30" x2="232.90" y2="691.30" stroke="#1e1e1e" stroke-width="1.3" />
<line x1="227.10" y1="713.85" x2="232.90" y2="713.85" stroke="#1e1e1e" stroke-width="1.3" />
<line x1="266.26" y1="685.80" x2="266.26" y2="706.70" stroke="#1e1e1e" stroke-width="1.3" />
<line x1="263.36" y1="685.80" x2="269.16" y2="685.80" stroke="#1e1e1e" stroke-width="1.3" />
<line x1="263.36" y1="706.70" x2="269.16" y2="706.70" stroke="#1e1e1e" stroke-width="1.3" />
<line x1="306.00" y1="666.55" x2="306.00" y2="684.15" stroke="#1e1e1e" stroke-width="1.3" />
<line x1="303.10" y1="666.55" x2="308.90" y2="666.55" stroke="#1e1e1e" stroke-width="1.3" />
<line x1="303.10" y1="684.15" x2="308.90" y2="684.15" stroke="#1e1e1e" stroke-width="1.3" />
<circle cx="78.00" cy="692.95" r="2.75" fill="#fff" stroke="#1e1e1e" stroke-width="1.25"/>
<circle cx="230.00" cy="701.97" r="2.75" fill="#fff" stroke="#1e1e1e" stroke-width="1.25"/>
<circle cx="266.26" cy="696.03" r="2.75" fill="#fff" stroke="#1e1e1e" stroke-width="1.25"/>
<circle cx="306.00" cy="675.02" r="2.75" fill="#fff" stroke="#1e1e1e" stroke-width="1.25"/>
<line x1="78.00" y1="783.40" x2="78.00" y2="795.00" stroke="#1e1e1e" stroke-width="1.3" />
<line x1="75.10" y1="783.40" x2="80.90" y2="783.40" stroke="#1e1e1e" stroke-width="1.3" />
<line x1="75.10" y1="795.00" x2="80.90" y2="795.00" stroke="#1e1e1e" stroke-width="1.3" />
<circle cx="78.00" cy="789.00" r="3.3" fill="#1e1e1e" stroke="#1e1e1e" stroke-width="0.2"/>
<rect x="70.00" y="611.60" width="80.00" height="25.50" stroke="#1e1e1e" fill="none" stroke-width="1.3"/>
<text x="76.00" y="629.80" font-size="16" text-anchor="start" fill="#1e1e1e" stroke="#1e1e1e" ><tspan font-style="italic">T</tspan> = 30 °C</text>
<text x="81.00" y="677.50" font-size="16" text-anchor="start" fill="#1e1e1e" stroke="#1e1e1e" ><tspan font-style="italic">k</tspan><tspan font-style="italic" font-size="10" dy="5.7">on</tspan></text>
<text x="81.50" y="772.30" font-size="16" text-anchor="start" fill="#1e1e1e" stroke="#1e1e1e" ><tspan font-style="italic">k</tspan><tspan font-style="italic" font-size="10" dy="5">off</tspan></text>
<text x="278.50" y="661.50" font-size="16" text-anchor="middle" fill="#1e1e1e" stroke="#1e1e1e" ><tspan font-style="italic">λ</tspan> = 10</text>
<text x="279.50" y="778.00" font-size="16" text-anchor="middle" fill="#1e1e1e" stroke="#1e1e1e" ><tspan font-style="italic">λ</tspan> = 1</text>
<text x="193.00" y="749.00" font-size="16" text-anchor="middle" fill="#1e1e1e" stroke="#1e1e1e" >Reversible tuning</text>
<line x1="117.60" y1="742.00" x2="117.60" y2="713.20" stroke="#1e1e1e" stroke-width="1.3" />
<path d="M117.60 707.90L120.60 714.70L117.60 713.20L114.60 714.70Z" fill="#1e1e1e"/>
<line x1="117.60" y1="742.00" x2="117.60" y2="774.60" stroke="#1e1e1e" stroke-width="1.3" />
<path d="M117.60 779.90L114.60 773.10L117.60 774.60L120.60 773.10Z" fill="#1e1e1e"/>
<text x="348.40" y="576.50" font-size="18" text-anchor="start" fill="#4b4b4b" stroke="#4b4b4b" font-weight="bold" >f</text>
<line x1="427.20" y1="815.00" x2="427.20" y2="806.50" stroke="#1e1e1e" stroke-width="1.3" />
<text x="427.20" y="833.50" font-size="16" text-anchor="middle" fill="#1e1e1e" stroke="#1e1e1e" >10<tspan font-size="9.5" dy="-5.5">0</tspan></text>
<line x1="503.40" y1="815.00" x2="503.40" y2="806.50" stroke="#1e1e1e" stroke-width="1.3" />
<text x="503.40" y="833.50" font-size="16" text-anchor="middle" fill="#1e1e1e" stroke="#1e1e1e" >10<tspan font-size="9.5" dy="-5.5">1</tspan></text>
<line x1="579.60" y1="815.00" x2="579.60" y2="806.50" stroke="#1e1e1e" stroke-width="1.3" />
<text x="579.60" y="833.50" font-size="16" text-anchor="middle" fill="#1e1e1e" stroke="#1e1e1e" >10<tspan font-size="9.5" dy="-5.5">2</tspan></text>
<line x1="655.80" y1="815.00" x2="655.80" y2="806.50" stroke="#1e1e1e" stroke-width="1.3" />
<text x="655.80" y="833.50" font-size="16" text-anchor="middle" fill="#1e1e1e" stroke="#1e1e1e" >10<tspan font-size="9.5" dy="-5.5">3</tspan></text>
<line x1="410.30" y1="815.00" x2="410.30" y2="810.50" stroke="#1e1e1e" stroke-width="1.3" />
<line x1="415.40" y1="815.00" x2="415.40" y2="810.50" stroke="#1e1e1e" stroke-width="1.3" />
<line x1="419.82" y1="815.00" x2="419.82" y2="810.50" stroke="#1e1e1e" stroke-width="1.3" />
<line x1="423.71" y1="815.00" x2="423.71" y2="810.50" stroke="#1e1e1e" stroke-width="1.3" />
<line x1="450.14" y1="815.00" x2="450.14" y2="810.50" stroke="#1e1e1e" stroke-width="1.3" />
<line x1="463.56" y1="815.00" x2="463.56" y2="810.50" stroke="#1e1e1e" stroke-width="1.3" />
<line x1="473.08" y1="815.00" x2="473.08" y2="810.50" stroke="#1e1e1e" stroke-width="1.3" />
<line x1="480.46" y1="815.00" x2="480.46" y2="810.50" stroke="#1e1e1e" stroke-width="1.3" />
<line x1="486.50" y1="815.00" x2="486.50" y2="810.50" stroke="#1e1e1e" stroke-width="1.3" />
<line x1="491.60" y1="815.00" x2="491.60" y2="810.50" stroke="#1e1e1e" stroke-width="1.3" />
<line x1="496.02" y1="815.00" x2="496.02" y2="810.50" stroke="#1e1e1e" stroke-width="1.3" />
<line x1="499.91" y1="815.00" x2="499.91" y2="810.50" stroke="#1e1e1e" stroke-width="1.3" />
<line x1="526.34" y1="815.00" x2="526.34" y2="810.50" stroke="#1e1e1e" stroke-width="1.3" />
<line x1="539.76" y1="815.00" x2="539.76" y2="810.50" stroke="#1e1e1e" stroke-width="1.3" />
<line x1="549.28" y1="815.00" x2="549.28" y2="810.50" stroke="#1e1e1e" stroke-width="1.3" />
<line x1="556.66" y1="815.00" x2="556.66" y2="810.50" stroke="#1e1e1e" stroke-width="1.3" />
<line x1="562.70" y1="815.00" x2="562.70" y2="810.50" stroke="#1e1e1e" stroke-width="1.3" />
<line x1="567.80" y1="815.00" x2="567.80" y2="810.50" stroke="#1e1e1e" stroke-width="1.3" />
<line x1="572.22" y1="815.00" x2="572.22" y2="810.50" stroke="#1e1e1e" stroke-width="1.3" />
<line x1="576.11" y1="815.00" x2="576.11" y2="810.50" stroke="#1e1e1e" stroke-width="1.3" />
<line x1="602.54" y1="815.00" x2="602.54" y2="810.50" stroke="#1e1e1e" stroke-width="1.3" />
<line x1="615.96" y1="815.00" x2="615.96" y2="810.50" stroke="#1e1e1e" stroke-width="1.3" />
<line x1="625.48" y1="815.00" x2="625.48" y2="810.50" stroke="#1e1e1e" stroke-width="1.3" />
<line x1="632.86" y1="815.00" x2="632.86" y2="810.50" stroke="#1e1e1e" stroke-width="1.3" />
<line x1="638.90" y1="815.00" x2="638.90" y2="810.50" stroke="#1e1e1e" stroke-width="1.3" />
<line x1="644.00" y1="815.00" x2="644.00" y2="810.50" stroke="#1e1e1e" stroke-width="1.3" />
<line x1="648.42" y1="815.00" x2="648.42" y2="810.50" stroke="#1e1e1e" stroke-width="1.3" />
<line x1="652.31" y1="815.00" x2="652.31" y2="810.50" stroke="#1e1e1e" stroke-width="1.3" />
<line x1="678.74" y1="815.00" x2="678.74" y2="810.50" stroke="#1e1e1e" stroke-width="1.3" />
<line x1="404.60" y1="815.00" x2="413.30" y2="815.00" stroke="#1e1e1e" stroke-width="1.3" />
<text x="400.10" y="819.70" font-size="16" text-anchor="end" fill="#1e1e1e" stroke="#1e1e1e" >0.0</text>
<line x1="404.60" y1="787.50" x2="409.10" y2="787.50" stroke="#1e1e1e" stroke-width="1.3" />
<line x1="404.60" y1="760.00" x2="413.30" y2="760.00" stroke="#1e1e1e" stroke-width="1.3" />
<text x="400.10" y="762.80" font-size="16" text-anchor="end" fill="#1e1e1e" stroke="#1e1e1e" >0.5</text>
<line x1="404.60" y1="732.50" x2="409.10" y2="732.50" stroke="#1e1e1e" stroke-width="1.3" />
<line x1="404.60" y1="705.00" x2="413.30" y2="705.00" stroke="#1e1e1e" stroke-width="1.3" />
<text x="400.10" y="708.50" font-size="16" text-anchor="end" fill="#1e1e1e" stroke="#1e1e1e" >1.0</text>
<line x1="404.60" y1="677.50" x2="409.10" y2="677.50" stroke="#1e1e1e" stroke-width="1.3" />
<line x1="404.60" y1="650.00" x2="413.30" y2="650.00" stroke="#1e1e1e" stroke-width="1.3" />
<text x="400.10" y="651.40" font-size="16" text-anchor="end" fill="#1e1e1e" stroke="#1e1e1e" >1.5</text>
<line x1="404.60" y1="622.50" x2="409.10" y2="622.50" stroke="#1e1e1e" stroke-width="1.3" />
<text x="400.10" y="597.70" font-size="16" text-anchor="end" fill="#1e1e1e" stroke="#1e1e1e" >2.0</text>
<rect x="404.60" y="595.00" width="274.40" height="220.00" stroke="#1e1e1e" fill="none" stroke-width="1.55"/>
<text transform="translate(372.00,706.50) rotate(-90)" font-size="16.15" text-anchor="middle" fill="#1e1e1e" stroke="#1e1e1e">Thermal conductivity, <tspan font-style="italic">κ</tspan> (W m<tspan font-size="8.4" dy="-5.5">-1</tspan><tspan dy="5.5">K</tspan><tspan font-size="8.4" dy="-5.5">-1</tspan><tspan dy="5.5">)</tspan></text>
<text x="545.50" y="852.60" font-size="16.3" text-anchor="middle" fill="#1e1e1e" stroke="#1e1e1e" >Cycle number, <tspan font-style="italic">N</tspan></text>
<path d="M427.20 693.45 L579.60 680.25 L615.96 668.15 L655.80 664.30 L655.80 670.90 L615.96 678.60 L579.60 724.80 L427.20 695.43Z" fill="#c2e3d3"/>
<rect x="427.20" y="794" width="228.60" height="10" fill="#c2e3d3"/>
<line x1="431.89" y1="694.69" x2="574.91" y2="702.33" stroke="#2b8c3e" stroke-width="1.3" />
<line x1="583.27" y1="699.64" x2="612.29" y2="676.37" stroke="#2b8c3e" stroke-width="1.3" />
<line x1="620.61" y1="672.80" x2="651.14" y2="668.67" stroke="#2b8c3e" stroke-width="1.3" />
<line x1="427.20" y1="693.45" x2="427.20" y2="695.43" stroke="#2b8c3e" stroke-width="1.3" />
<line x1="424.30" y1="693.45" x2="430.10" y2="693.45" stroke="#2b8c3e" stroke-width="1.3" />
<line x1="424.30" y1="695.43" x2="430.10" y2="695.43" stroke="#2b8c3e" stroke-width="1.3" />
<line x1="579.60" y1="680.25" x2="579.60" y2="724.80" stroke="#2b8c3e" stroke-width="1.3" />
<line x1="576.70" y1="680.25" x2="582.50" y2="680.25" stroke="#2b8c3e" stroke-width="1.3" />
<line x1="576.70" y1="724.80" x2="582.50" y2="724.80" stroke="#2b8c3e" stroke-width="1.3" />
<line x1="615.96" y1="668.15" x2="615.96" y2="678.60" stroke="#2b8c3e" stroke-width="1.3" />
<line x1="613.06" y1="668.15" x2="618.86" y2="668.15" stroke="#2b8c3e" stroke-width="1.3" />
<line x1="613.06" y1="678.60" x2="618.86" y2="678.60" stroke="#2b8c3e" stroke-width="1.3" />
<line x1="655.80" y1="664.30" x2="655.80" y2="670.90" stroke="#2b8c3e" stroke-width="1.3" />
<line x1="652.90" y1="664.30" x2="658.70" y2="664.30" stroke="#2b8c3e" stroke-width="1.3" />
<line x1="652.90" y1="670.90" x2="658.70" y2="670.90" stroke="#2b8c3e" stroke-width="1.3" />
<path d="M427.20 690.54 L430.91 693.23 L429.49 697.60 L424.91 697.60 L423.49 693.23Z" fill="#2b8c3e" stroke="#2b8c3e" stroke-width="0.6"/>
<path d="M579.60 699.18 L582.83 701.53 L581.60 705.33 L577.60 705.33 L576.37 701.53Z" fill="#fff" stroke="#2b8c3e" stroke-width="1.3"/>
<path d="M615.96 670.03 L619.19 672.38 L617.96 676.18 L613.96 676.18 L612.72 672.38Z" fill="#fff" stroke="#2b8c3e" stroke-width="1.3"/>
<path d="M655.80 664.64 L659.03 666.99 L657.80 670.79 L653.80 670.79 L652.57 666.99Z" fill="#fff" stroke="#2b8c3e" stroke-width="1.3"/>
<line x1="427.20" y1="794.00" x2="427.20" y2="804.00" stroke="#2b8c3e" stroke-width="1.3" />
<line x1="424.30" y1="794.00" x2="430.10" y2="794.00" stroke="#2b8c3e" stroke-width="1.3" />
<line x1="424.30" y1="804.00" x2="430.10" y2="804.00" stroke="#2b8c3e" stroke-width="1.3" />
<path d="M427.20 795.40 L430.62 797.89 L429.32 801.91 L425.08 801.91 L423.78 797.89Z" fill="#2b8c3e" stroke="#2b8c3e" stroke-width="0.5"/>
<rect x="419.60" y="608.80" width="81.00" height="25.50" stroke="#1e1e1e" fill="none" stroke-width="1.3"/>
<text x="427.00" y="628.60" font-size="16" text-anchor="start" fill="#2b8c3e" stroke="#2b8c3e" ><tspan font-style="italic">T</tspan> = 60 °C</text>
<text x="431.00" y="678.40" font-size="16" text-anchor="start" fill="#1e1e1e" stroke="#1e1e1e" ><tspan font-style="italic">k</tspan><tspan font-style="italic" font-size="10" dy="5.4">on</tspan></text>
<text x="431.20" y="779.60" font-size="16" text-anchor="start" fill="#1e1e1e" stroke="#1e1e1e" ><tspan font-style="italic">k</tspan><tspan font-style="italic" font-size="10" dy="5.4">off</tspan></text>
<text x="634.00" y="653.30" font-size="16" text-anchor="middle" fill="#106e3c" stroke="#106e3c" ><tspan font-style="italic">λ</tspan> = 10</text>
<text x="637.50" y="788.20" font-size="16" text-anchor="middle" fill="#106e3c" stroke="#106e3c" ><tspan font-style="italic">λ</tspan> = 1</text>
<text x="552.00" y="757.60" font-size="16" text-anchor="middle" fill="#106e3c" stroke="#106e3c" >Reversible tuning</text>
<line x1="476.80" y1="750.00" x2="476.80" y2="716.40" stroke="#106e3c" stroke-width="1.4" />
<path d="M476.80 711.10L479.80 717.90L476.80 716.40L473.80 717.90Z" fill="#106e3c"/>
<line x1="476.80" y1="750.00" x2="476.80" y2="783.70" stroke="#106e3c" stroke-width="1.4" />
<path d="M476.80 789.00L473.80 782.20L476.80 783.70L479.80 782.20Z" fill="#106e3c"/>
</svg></body></html>
